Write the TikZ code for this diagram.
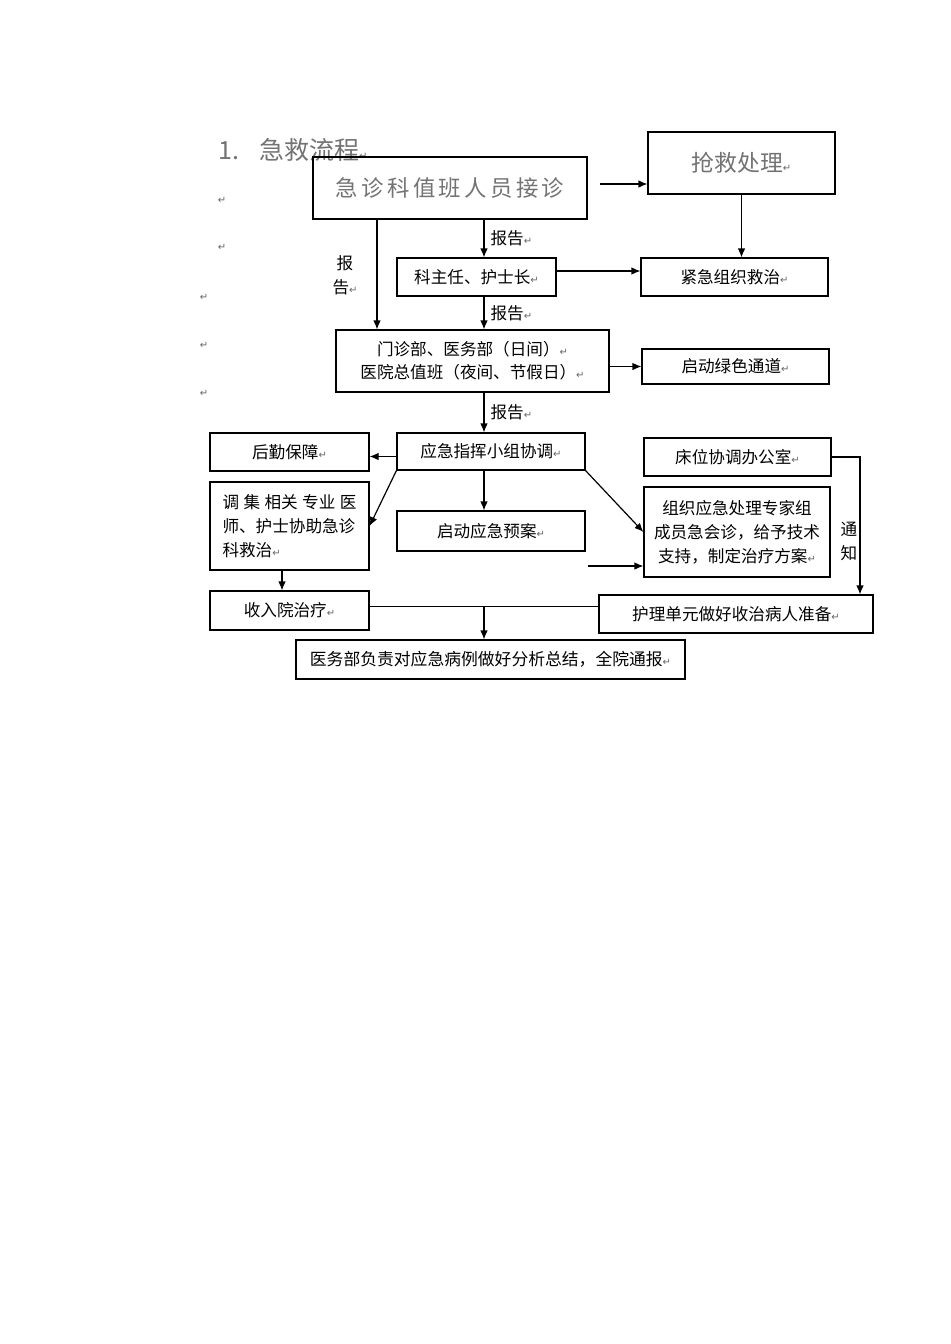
\documentclass[tikz,border=0pt]{standalone}
\usepackage{fontspec}
\setmainfont{Noto Sans CJK SC}
\newfontfamily\markfont{DejaVu Sans}
\newfontfamily\widefont[LetterSpace=15]{Noto Sans CJK SC}
\usetikzlibrary{arrows.meta}
\newcommand{\retmark}{{\markfont\fontsize{5}{5}\selectfont\textcolor{black!60}{↵}}}
\tikzset{
  box/.style={draw=black, line width=0.6pt, inner sep=0pt, align=center, font=\fontsize{8.3}{12}\selectfont},
  tag/.style={inner sep=0pt, align=center, font=\fontsize{8.3}{12}\selectfont},
  flow/.style={-{Latex[length=4.5pt,width=3.8pt]}, line width=0.6pt},
  link/.style={line width=0.6pt},
}
\begin{document}
\begin{tikzpicture}[x=0.5pt,y=-0.5pt]
		\fill[white] (0,0) rectangle (950,1344);
		\useasboundingbox (0,0) rectangle (950,1344);
		
		\node[anchor=west, inner sep=0pt, text=black!55, font=\fontsize{12.5}{14}\selectfont] (T) at (218,150) {1.\hspace{10pt}急救流程\retmark};
		\node[inner sep=0pt] (r1) at (222,200) {\retmark};
		\node[inner sep=0pt] (r2) at (222,247) {\retmark};
		\node[inner sep=0pt] (r3) at (204,297) {\retmark};
		\node[inner sep=0pt] (r4) at (204,345) {\retmark};
		\node[inner sep=0pt] (r5) at (204,393) {\retmark};
		
		\node[box, minimum width=137pt, minimum height=31pt, text=black!55, font=\widefont\fontsize{11.2}{13}\selectfont] (A) at (450,188) {急诊科值班人员接诊};
		\node[box, minimum width=93.5pt, minimum height=31pt, text=black!55, font=\fontsize{11.4}{13}\selectfont] (B) at (741.5,163) {抢救处理\retmark};
		\node[box, minimum width=79.5pt, minimum height=19pt] (C) at (476.5,277) {科主任、护士长\retmark};
		\node[box, minimum width=93.5pt, minimum height=19pt] (D) at (734.5,277) {紧急组织救治\retmark};
		\node[box, minimum width=136.5pt, minimum height=31pt, font=\fontsize{8.3}{11.5}\selectfont] (E) at (472.5,361) {门诊部、医务部（日间）\retmark\\医院总值班（夜间、节假日）\retmark};
		\node[box, minimum width=93.5pt, minimum height=17.5pt] (F) at (735.5,366.5) {启动绿色通道\retmark};
		\node[box, minimum width=94pt, minimum height=18.5pt] (G) at (491,451.5) {应急指挥小组协调\retmark};
		\node[box, minimum width=79.5pt, minimum height=19pt] (H) at (289.5,452) {后勤保障\retmark};
		\node[box, minimum width=79.5pt, minimum height=44pt, align=left] (I) at (289.5,526) {\makebox[67pt][s]{调\hfill 集\hfill 相关\hfill 专业\hfill 医}\\师、护士协助急诊\\科救治\retmark};
		\node[box, minimum width=94pt, minimum height=20pt] (J) at (491,531) {启动应急预案\retmark};
		\node[box, minimum width=93.5pt, minimum height=19pt] (K) at (737.5,457) {床位协调办公室\retmark};
		\node[box, minimum width=93pt, minimum height=45pt] (L) at (737,532) {组织应急处理专家组\\成员急会诊，给予技术\\支持，制定治疗方案\retmark};
		\node[box, minimum width=79.5pt, minimum height=19.5pt] (M) at (289.5,610.5) {收入院治疗\retmark};
		\node[box, minimum width=137pt, minimum height=19pt] (N) at (736,614) {护理单元做好收治病人准备\retmark};
		\node[box, minimum width=194.5pt, minimum height=19.5pt, font=\fontsize{8.4}{12}\selectfont] (O) at (490.5,659.5) {医务部负责对应急病例做好分析总结，全院通报\retmark};
		
		\coordinate (x484) at (484,0);
		\coordinate (x377) at (377,0);
		\coordinate (x282) at (282,0);
		\coordinate (x860) at (860,0);
		\coordinate (a1) at (600,184);
		\coordinate (a2) at (588,566);
		
		\draw[flow] (a1) -- (a1 -| B.west);
		\draw[flow] (B.south) -- (B.south |- D.north);
		\draw[flow] (A.south -| x484) -- (C.north -| x484) node[tag, midway, right=3pt] {报告\retmark};
		\draw[flow] (A.south -| x377) -- (E.north -| x377);
		\node[tag] (bg) at (345,275) {报\\告\retmark};
		\draw[flow] ([yshift=3pt]C.east) -- ([yshift=3pt]D.west);
		\draw[flow] (C.south -| x484) -- (E.north -| x484) node[tag, midway, right=3pt] {报告\retmark};
		\draw[flow] (F.west -| E.east) -- (F.west);
		\draw[flow] (E.south -| x484) -- (G.north -| x484) node[tag, midway, right=3pt] {报告\retmark};
		\draw[flow] ([yshift=-2.5pt]G.west) -- ([yshift=-2.5pt]G.west -| H.east);
		\draw[flow] (G.south west) -- (I.east);
		\draw[flow] (G.south -| x484) -- (J.north -| x484);
		\draw[flow] (G.south east) -- (L.west);
		\draw[flow] (a2) -- (a2 -| L.west);
		\draw[flow] (K.east) -| (N.north -| x860);
		\node[tag] (tz) at (849,541) {通\\知};
		\draw[flow] (I.south -| x282) -- (M.north -| x282);
		\draw[link] ([yshift=2pt]M.east) -- ([yshift=2pt]M.east -| N.west);
		\draw[flow] ([yshift=2pt]M.east -| x484) -- (O.north -| x484);
\end{tikzpicture}
\end{document}
